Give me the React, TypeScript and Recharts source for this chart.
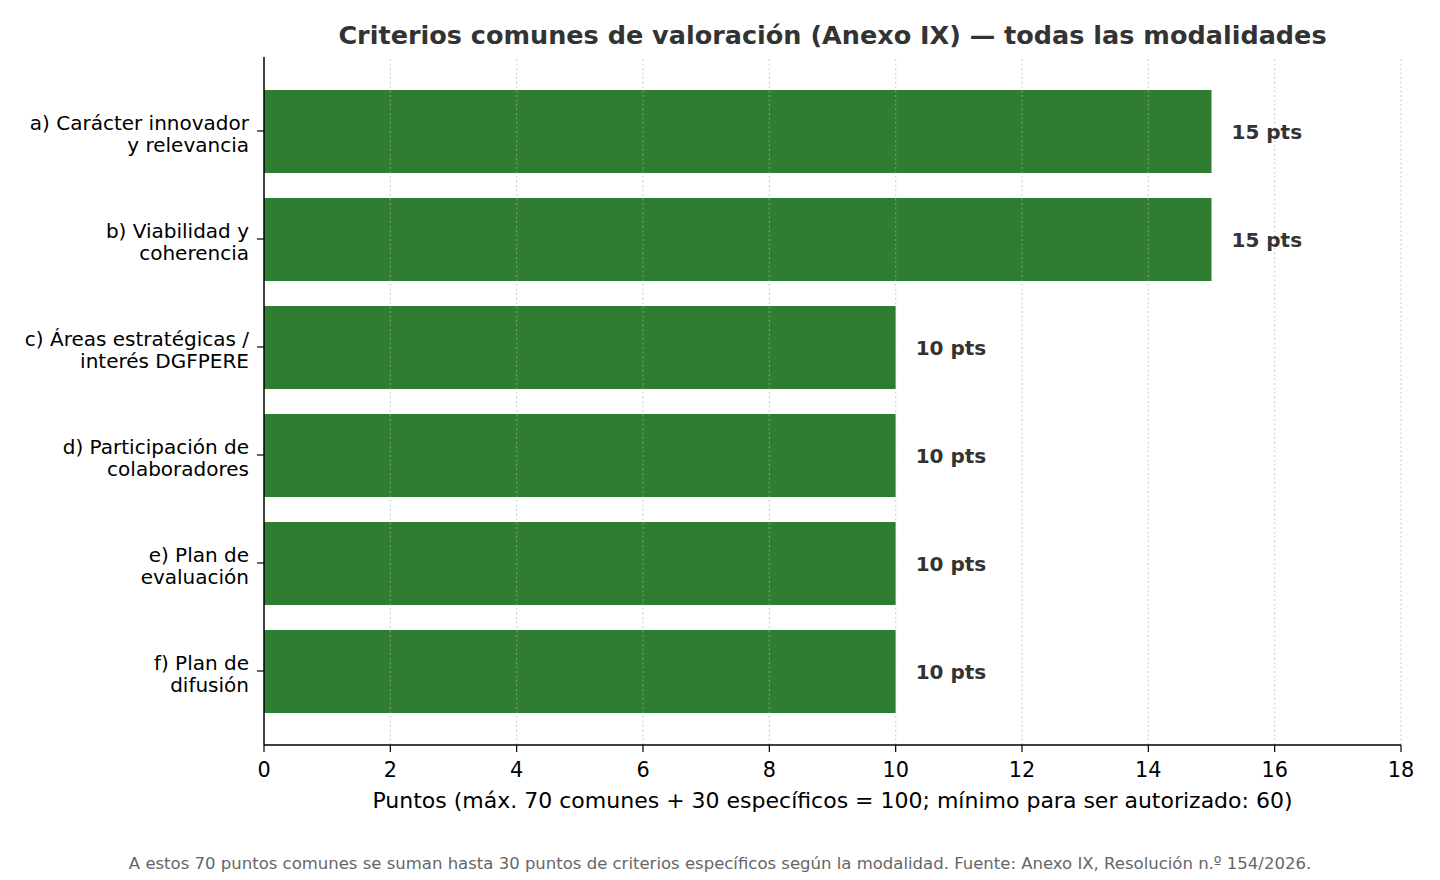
import { BarChart, Bar, XAxis, YAxis, ReferenceLine, LabelList } from 'recharts'

const categories = [
  'a) Carácter innovador\ny relevancia',
  'b) Viabilidad y\ncoherencia',
  'c) Áreas estratégicas /\ninterés DGFPERE',
  'd) Participación de\ncolaboradores',
  'e) Plan de\nevaluación',
  'f) Plan de\ndifusión',
]
const points = [15, 15, 10, 10, 10, 10]
const xTicks = [0, 2, 4, 6, 8, 10, 12, 14, 16, 18]

const data = categories.map((name, i) => ({ name, value: points[i] }))

const FONT = '"DejaVu Sans", sans-serif'

function CategoryTick(props: any) {
  const { x, y, payload } = props
  const lines = String(payload.value).split('\n')
  const lineH = 22
  const start = y - ((lines.length - 1) * lineH) / 2 + 4
  return (
    <text x={x} y={start} textAnchor="end" fontFamily={FONT} fontSize={20} fill="#000">
      {lines.map((l, i) => (
        <tspan key={i} x={x} y={start + i * lineH} dominantBaseline="middle">
          {l}
        </tspan>
      ))}
    </text>
  )
}

export default function App() {
  return (
    <div style={{ position: 'absolute', left: 0, top: 0, width: 1440, height: 880, background: '#fff', fontFamily: FONT }}>
      <div style={{ position: 'absolute', left: 264, width: 1137, top: 20, textAlign: 'center', fontSize: 25.5, fontWeight: 'bold', color: '#333' }}>
        Criterios comunes de valoración (Anexo IX) — todas las modalidades
      </div>
      <BarChart
        width={1440}
        height={880}
        data={data}
        layout="vertical"
        margin={{ top: 57, right: 39, bottom: 75, left: 0 }}
      >
        <XAxis
          type="number"
          domain={[0, 18]}
          ticks={xTicks}
          height={60}
          tickSize={7}
          tickMargin={10}
          tick={{ fontSize: 20.8, fill: '#000', fontFamily: FONT }}
          axisLine={{ stroke: '#000', strokeWidth: 1.5 }}
          tickLine={{ stroke: '#000', strokeWidth: 1.2 }}
          label={{
            value: 'Puntos (máx. 70 comunes + 30 específicos = 100; mínimo para ser autorizado: 60)',
            position: 'insideBottom',
            offset: -3,
            fontSize: 22,
            fill: '#000',
            fontFamily: FONT,
          }}
        />
        <YAxis
          type="category"
          dataKey="name"
          width={264}
          padding={{ top: 20, bottom: 20 }}
          tickSize={7}
          tickMargin={8}
          tick={<CategoryTick />}
          axisLine={{ stroke: '#000', strokeWidth: 1.5 }}
          tickLine={{ stroke: '#000', strokeWidth: 1.2 }}
          interval={0}
        />
        <Bar dataKey="value" fill="#2e7d32" barSize={83} isAnimationActive={false}>
          <LabelList
            dataKey="value"
            position="right"
            offset={20}
            formatter={(v: any) => `${v} pts`}
            style={{ fontSize: 20, fontWeight: 'bold', fill: '#333', fontFamily: FONT }}
          />
        </Bar>
        {xTicks.slice(1).map((t) => (
          <ReferenceLine key={t} x={t} stroke="#b0b0b0" strokeOpacity={0.55} strokeWidth={1.2} strokeDasharray="2 2.5" />
        ))}
      </BarChart>
      <div style={{ position: 'absolute', left: 0, width: 1440, top: 854, textAlign: 'center', fontSize: 16.5, color: '#666' }}>
        A estos 70 puntos comunes se suman hasta 30 puntos de criterios específicos según la modalidad. Fuente: Anexo IX, Resolución n.º 154/2026.
      </div>
    </div>
  )
}
